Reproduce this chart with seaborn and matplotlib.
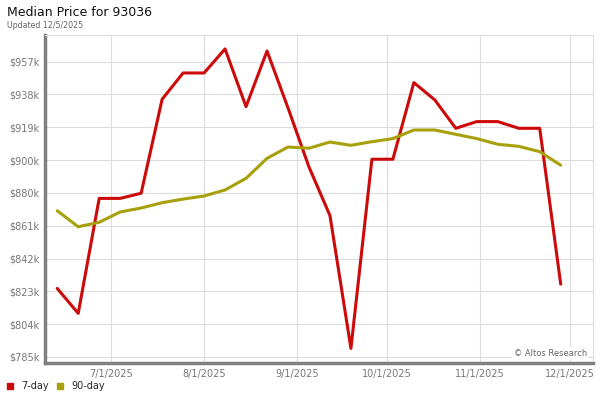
import pandas as pd
import matplotlib.pyplot as plt
import matplotlib.dates as mdates
from matplotlib.lines import Line2D
import seaborn as sns

# weekly dates (Fridays)
dates = ["2025-06-13", "2025-06-20", "2025-06-27", "2025-07-04", "2025-07-11",
         "2025-07-18", "2025-07-25", "2025-08-01", "2025-08-08", "2025-08-15",
         "2025-08-22", "2025-08-29", "2025-09-05", "2025-09-12", "2025-09-19",
         "2025-09-26", "2025-10-03", "2025-10-10", "2025-10-17", "2025-10-24",
         "2025-10-31", "2025-11-07", "2025-11-14", "2025-11-21", "2025-11-28"]

# median price in $k
price_7day = [824.9, 810.4, 877.3, 877.3, 880.3, 935.0, 950.3, 950.3, 964.3, 930.7,
              963.1, 930.0, 895.6, 867.3, 790.0, 900.1, 900.1, 944.7, 934.6, 918.1,
              922.0, 922.0, 918.1, 918.1, 827.4]
price_90day = [870.1, 860.8, 863.4, 869.4, 871.7, 874.8, 876.9, 878.7, 882.2, 889.0,
               900.6, 907.2, 906.5, 910.1, 908.2, 910.3, 912.1, 917.1, 917.1, 914.6,
               912.1, 908.8, 907.6, 904.5, 896.6]

series_names = ["7-day", "90-day"]
series_colors = ["#cc0a0a", "#a8a00a"]

ytick_vals = [785.0, 804.1, 823.2, 842.3, 861.4, 880.5, 899.6, 918.7, 937.8, 956.9]
ytick_labels = ["$785k", "$804k", "$823k", "$842k", "$861k", "$880k",
                "$900k", "$919k", "$938k", "$957k"]
xtick_dates = ["2025-07-01", "2025-08-01", "2025-09-01", "2025-10-01",
               "2025-11-01", "2025-12-01"]
xtick_labels = ["7/1/2025", "8/1/2025", "9/1/2025", "10/1/2025", "11/1/2025", "12/1/2025"]

df = pd.DataFrame({
    "date": pd.to_datetime(dates * 2),
    "price": price_7day + price_90day,
    "series": [series_names[0]] * len(dates) + [series_names[1]] * len(dates),
})

sns.set_theme(style="white")
plt.rcParams['font.family'] = ['DejaVu Sans']

fig = plt.figure(figsize=(6, 4), dpi=100)
ax = fig.add_axes([0.075, 0.0925, 0.913, 0.82])

sns.lineplot(data=df, x="date", y="price", hue="series", hue_order=series_names,
             palette=series_colors, linewidth=2.2, legend=False, ax=ax, zorder=3)

ax.set_ylim(781.5, 972.4)
ax.set_xlim(pd.Timestamp("2025-06-08 22:00"), pd.Timestamp("2025-12-08 17:00"))
ax.set_yticks(ytick_vals)
ax.set_yticklabels(ytick_labels)
ax.set_xticks(pd.to_datetime(xtick_dates))
ax.set_xticklabels(xtick_labels)
ax.tick_params(axis="both", length=0, labelsize=7, labelcolor="#777777", pad=4)
ax.set_xlabel("")
ax.set_ylabel("")
ax.grid(True, color="#dddddd", linewidth=0.8)
ax.set_axisbelow(True)

for side in ["top", "right"]:
    ax.spines[side].set_color("#dddddd")
    ax.spines[side].set_linewidth(0.8)
for side in ["left", "bottom"]:
    ax.spines[side].set_color("#808080")
    ax.spines[side].set_linewidth(2.5)

ax.text(0.989, 0.03, "\u00a9 Altos Research", transform=ax.transAxes,
        ha="right", va="center", fontsize=6, color="#666666", zorder=4,
        bbox=dict(facecolor="white", edgecolor="none", pad=1))

fig.text(0.012, 0.968, "Median Price for 93036", fontsize=9, color="#111111",
         ha="left", va="center")
fig.text(0.012, 0.937, "Updated 12/5/2025", fontsize=5.7, color="#666666",
         ha="left", va="center")

handles = [Line2D([0], [0], marker="s", linestyle="none", color=c, markersize=5)
           for c in series_colors]
fig.legend(handles, series_names, loc="center left", bbox_to_anchor=(-0.004, 0.035),
           ncol=2, frameon=False, fontsize=7, handletextpad=0.5, handlelength=1.2,
           columnspacing=0.6, borderaxespad=0.3)

fig.savefig("out.png", dpi=100)
